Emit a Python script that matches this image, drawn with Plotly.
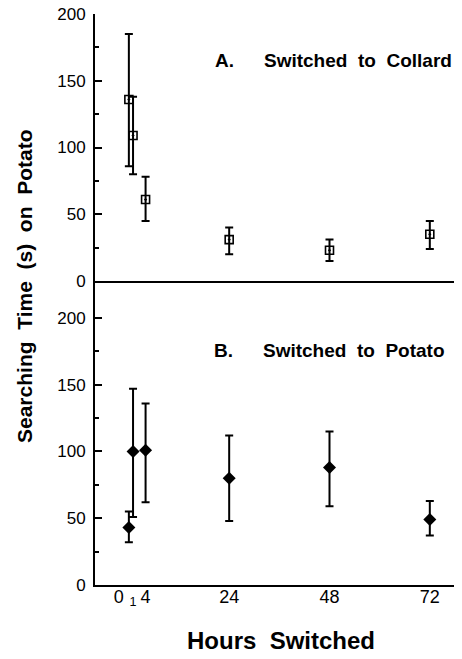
import plotly.graph_objects as go

hours = [0, 1, 4, 24, 48, 72]
collard_mean = [136, 109, 61, 31, 23, 35]
collard_upper = [185, 138, 78, 40, 31, 45]
collard_lower = [86, 80, 45, 20, 15, 24]
potato_mean = [43, 100, 101, 80, 88, 49]
potato_upper = [55, 147, 136, 112, 115, 63]
potato_lower = [32, 51, 62, 48, 59, 37]

NB = "\u00a0"
x_tickvals = [0, 1, 4, 24, 48, 72]
x_ticktext = ["0" + NB * 4, "<sub>1</sub>", "4", "24", "48", "72"]
y_tickvals = [0, 50, 100, 150, 200]
y_minorvals = [25, 75, 125, 175]

FONT = "Liberation Sans, Arial, sans-serif"

fig = go.Figure()

fig.add_trace(go.Scatter(
    x=hours, y=collard_mean, mode="markers",
    marker=dict(symbol="square-open-dot", size=8, color="black", line=dict(width=1.6, color="black")),
    error_y=dict(type="data", symmetric=False,
                 array=[u - m for u, m in zip(collard_upper, collard_mean)],
                 arrayminus=[m - l for m, l in zip(collard_mean, collard_lower)],
                 color="black", thickness=2, width=4),
    xaxis="x2", yaxis="y2", showlegend=False))

fig.add_trace(go.Scatter(
    x=hours, y=potato_mean, mode="markers",
    marker=dict(symbol="diamond", size=10, color="black"),
    error_y=dict(type="data", symmetric=False,
                 array=[u - m for u, m in zip(potato_upper, potato_mean)],
                 arrayminus=[m - l for m, l in zip(potato_mean, potato_lower)],
                 color="black", thickness=2, width=4),
    xaxis="x", yaxis="y", showlegend=False))

split = (585 - 281) / 571.0
xrange = [-8.1, 79.7]

yaxis_common = dict(
    tickvals=y_tickvals, ticks="inside", ticklen=7, tickwidth=2, tickcolor="black",
    showline=True, linewidth=2, linecolor="black", showgrid=False, zeroline=False,
    tickfont=dict(family=FONT, size=17, color="black"),
    minor=dict(tickvals=y_minorvals, ticks="inside", ticklen=4, tickwidth=1.5, tickcolor="black"),
    ticklabelstandoff=4, automargin=False, ticklabeloverflow="allow",
)

# page body has an 8px default margin; compensate so the plot lands where the reference has it
fig.update_layout(
    width=454, height=651,
    margin=dict(l=87, r=0, t=6, b=74, autoexpand=False),
    paper_bgcolor="white", plot_bgcolor="white",
    font=dict(family=FONT, color="black"),
    xaxis=dict(domain=[0, 1], range=xrange, anchor="y", automargin=False,
               tickvals=x_tickvals, ticktext=x_ticktext, ticks="", tickangle=0,
               ticklabeloverflow="allow",
               showline=True, linewidth=2, linecolor="black", showgrid=False, zeroline=False,
               tickfont=dict(family=FONT, size=18, color="black"), ticklabelstandoff=-6),
    yaxis=dict(domain=[0, split], range=[0, 227.7], anchor="x", **yaxis_common),
    xaxis2=dict(domain=[0, 1], range=xrange, anchor="y2", showticklabels=False, ticks="",
                automargin=False,
                showline=True, linewidth=2, linecolor="black", showgrid=False, zeroline=False),
    yaxis2=dict(domain=[split, 1], range=[0, 200], anchor="x2", **yaxis_common),
)

ann_font = dict(family=FONT, size=19, color="black", weight="bold")
fig.add_annotation(text="A.", xref="paper", yref="paper", x=(213 - 95) / 367, y=(585 - 60) / 571,
                   xanchor="left", yanchor="middle", showarrow=False, font=ann_font)
fig.add_annotation(text=f"Switched{NB}{NB}to{NB}{NB}Collard", xref="paper", yref="paper",
                   x=(262 - 95) / 367, y=(585 - 60) / 571,
                   xanchor="left", yanchor="middle", showarrow=False, font=ann_font)
fig.add_annotation(text="B.", xref="paper", yref="paper", x=(212 - 95) / 367, y=(585 - 350) / 571,
                   xanchor="left", yanchor="middle", showarrow=False, font=ann_font)
fig.add_annotation(text=f"Switched{NB}{NB}to{NB}{NB}Potato", xref="paper", yref="paper",
                   x=(261 - 95) / 367, y=(585 - 350) / 571,
                   xanchor="left", yanchor="middle", showarrow=False, font=ann_font)

title_font = dict(family=FONT, size=21, color="black", weight="bold")
fig.add_annotation(text=f"Searching{NB}{NB}Time{NB}{NB}(s){NB}{NB}on{NB}{NB}Potato",
                   xref="paper", yref="paper", x=(24 - 95) / 367, y=(585 - 286) / 571,
                   xanchor="center", yanchor="middle", textangle=-90, showarrow=False, font=title_font)
fig.add_annotation(text=f"Hours{NB}{NB}Switched", xref="paper", yref="paper",
                   x=(281 - 95) / 367, y=(585 - 640) / 571,
                   xanchor="center", yanchor="middle", showarrow=False,
                   font=dict(family=FONT, size=24, color="black", weight="bold"))

fig.write_html("out.html")
